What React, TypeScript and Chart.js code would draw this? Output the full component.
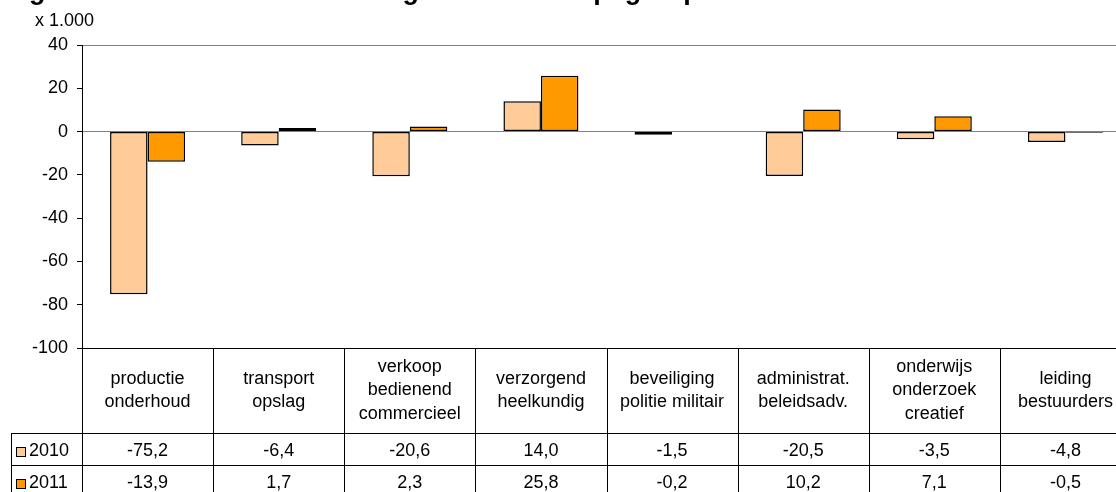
import React, { useEffect, useRef } from "react";
import { Chart, registerables } from "chart.js";

Chart.register(...registerables);

// ---- data ----
const categories: string[][] = [
  ["productie", "onderhoud"],
  ["transport", "opslag"],
  ["verkoop", "bedienend", "commercieel"],
  ["verzorgend", "heelkundig"],
  ["beveiliging", "politie militair"],
  ["administrat.", "beleidsadv."],
  ["onderwijs", "onderzoek", "creatief"],
  ["leiding", "bestuurders"],
];
const seriesNames = ["2010", "2011"];
const values2010 = [-75.2, -6.4, -20.6, 14.0, -1.5, -20.5, -3.5, -4.8];
const values2011 = [-13.9, 1.7, 2.3, 25.8, -0.2, 10.2, 7.1, -0.5];
const seriesColors = ["#FFCC99", "#FF9900"];
const yMin = -100;
const yMax = 40;
const yStep = 20;
const unitLabel = "x 1.000";
const titleText = "Figuur 3.4 Absolute verandering van de beroepsgroep";

const FONT = '"Liberation Sans", Arial, sans-serif';

const fmt = (v: number) => v.toFixed(1).replace(".", ",");

const tablePlugin = {
  id: "dataTable",
  afterDraw(chart: any) {
    const ctx: CanvasRenderingContext2D = chart.ctx;
    const area = chart.chartArea;
    const xs = chart.scales.x;
    const n = categories.length;
    const colW = (area.right - area.left) / n;
    const top = Math.round(area.bottom);
    const headerBottom = top + 85;
    const rowH = 32;
    const legendLeft = 11;
    const rightEdge = area.right;
    const bottom = headerBottom + rowH * 2;
    const px = (v: number) => Math.round(v) + 0.5;

    ctx.save();
    ctx.strokeStyle = "#000";
    ctx.lineWidth = 1;
    const line = (x1: number, y1: number, x2: number, y2: number) => {
      ctx.beginPath();
      ctx.moveTo(x1, y1);
      ctx.lineTo(x2, y2);
      ctx.stroke();
    };
    line(area.left, px(top), rightEdge, px(top));
    line(legendLeft, px(headerBottom), rightEdge, px(headerBottom));
    line(legendLeft, px(headerBottom + rowH), rightEdge, px(headerBottom + rowH));
    line(legendLeft, px(bottom), rightEdge, px(bottom));
    for (let i = 0; i <= n; i++) {
      const xb = px(area.left + i * colW);
      line(xb, top, xb, bottom);
    }
    line(px(legendLeft), headerBottom, px(legendLeft), bottom);

    ctx.fillStyle = "#000";
    ctx.font = `18px ${FONT}`;
    ctx.textAlign = "center";
    ctx.textBaseline = "middle";
    const lh = 23.5;
    const headerCenter = (top + headerBottom) / 2;
    categories.forEach((lines, i) => {
      const cx = xs.getPixelForValue(i);
      const y0 = headerCenter - ((lines.length - 1) / 2) * lh;
      lines.forEach((t, k) => ctx.fillText(t, cx, y0 + k * lh));
      ctx.fillText(fmt(values2010[i]), cx, headerBottom + rowH / 2 + 2);
      ctx.fillText(fmt(values2011[i]), cx, headerBottom + rowH + rowH / 2 + 2);
    });

    // legend keys
    ctx.textAlign = "left";
    seriesNames.forEach((name, r) => {
      const cy = headerBottom + rowH * r + rowH / 2 + 2;
      ctx.fillStyle = seriesColors[r];
      ctx.fillRect(16.5, Math.round(cy - 4) + 0.5, 9, 9);
      ctx.strokeStyle = "#000";
      ctx.strokeRect(16.5, Math.round(cy - 4) + 0.5, 9, 9);
      ctx.fillStyle = "#000";
      ctx.fillText(name, 29, cy);
    });

    // unit label
    ctx.fillText(unitLabel, 35, 21);

    // title (cut off at top)
    ctx.font = `bold 27px ${FONT}`;
    ctx.textBaseline = "alphabetic";
    ctx.fillText(titleText, 5, -1);
    ctx.restore();
  },
};

export default function App() {
  const ref = useRef<HTMLCanvasElement | null>(null);
  useEffect(() => {
    if (!ref.current) return;
    const chart = new Chart(ref.current, {
      type: "bar",
      data: {
        labels: categories.map((c) => c.join(" ")),
        datasets: [
          {
            label: seriesNames[0],
            data: values2010,
            backgroundColor: seriesColors[0],
            borderColor: "#000",
            borderWidth: 1.5,
            borderSkipped: false,
          },
          {
            label: seriesNames[1],
            data: values2011,
            backgroundColor: seriesColors[1],
            borderColor: "#000",
            borderWidth: 1.5,
            borderSkipped: false,
          },
        ],
      },
      options: {
        responsive: false,
        animation: false,
        devicePixelRatio: 1,
        layout: { padding: { left: 0, top: 45, right: 9, bottom: 152 } },
        datasets: { bar: { categoryPercentage: 0.572, barPercentage: 1 } },
        plugins: {
          legend: { display: false },
          tooltip: { enabled: false },
          title: { display: false },
        },
        scales: {
          x: { display: false },
          y: {
            min: yMin,
            max: yMax,
            afterFit: (s: any) => {
              s.width = 82;
            },
            ticks: {
              stepSize: yStep,
              color: "#000",
              padding: 9,
              font: { size: 18, family: FONT },
            },
            grid: {
              color: (c: any) =>
                c.tick && (c.tick.value === yMax || c.tick.value === 0) ? "#808080" : "rgba(0,0,0,0)",
              tickColor: "#000",
              tickLength: 5,
            },
            border: { display: true, color: "#000", width: 1 },
          },
        },
      },
      plugins: [tablePlugin],
    } as any);
    return () => chart.destroy();
  }, []);
  return (
    <div
      style={{
        position: "fixed",
        left: 0,
        top: 0,
        width: 1116,
        height: 492,
        overflow: "hidden",
        background: "#fff",
      }}
    >
      <canvas ref={ref} width={1140} height={500} style={{ display: "block" }} />
    </div>
  );
}
